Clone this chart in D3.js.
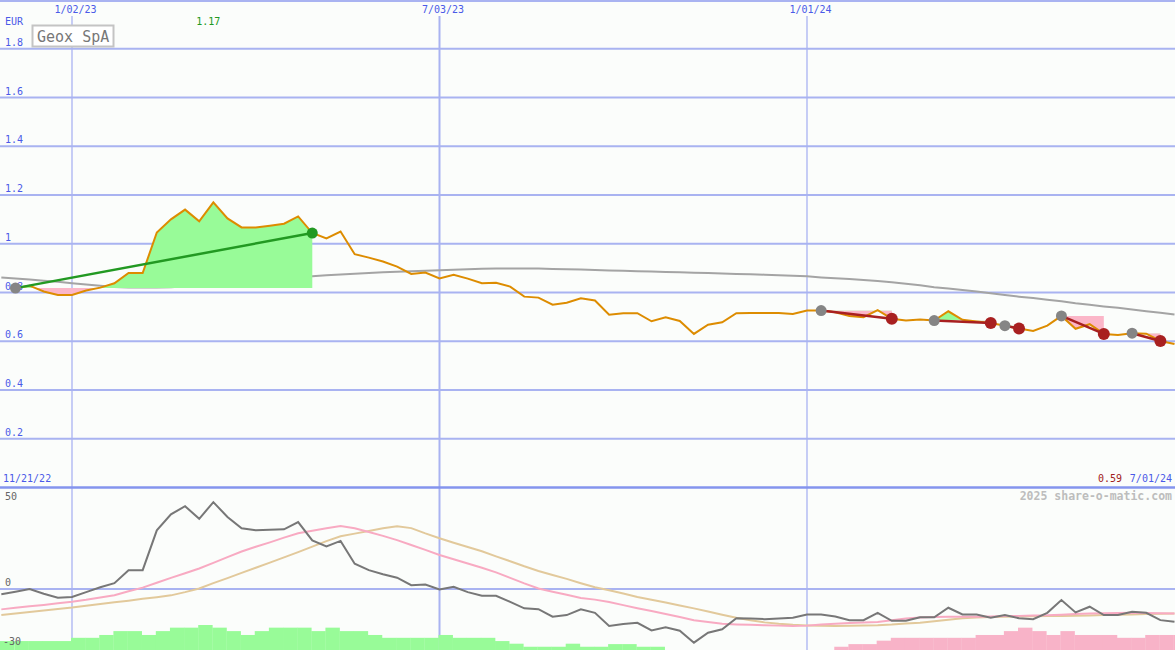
<!DOCTYPE html>
<html><head><meta charset="utf-8">
<script src="https://cdnjs.cloudflare.com/ajax/libs/d3/7.8.5/d3.min.js"></script>
<style>html,body{margin:0;padding:0;background:#fbfdfb;}svg{display:block;}text{font-family:"DejaVu Sans Mono",monospace;}</style>
</head><body>
<script>
// ---- data ----
const firstWeek = "2022-11-28";   // first weekly date (moving averages start here)
const lastWeek = "2024-07-01";
// weekly closing price, from 2022-12-05
const priceStart = "2022-12-05";
const price = [0.818,0.828,0.804,0.790,0.790,0.808,0.820,0.838,0.880,0.880,
1.046,1.100,1.140,1.092,1.170,1.104,1.067,1.067,1.074,1.082,
1.112,1.044,1.022,1.050,0.957,0.943,0.927,0.906,0.876,0.882,
0.858,0.873,0.857,0.838,0.840,0.824,0.783,0.779,0.750,0.758,
0.776,0.767,0.709,0.715,0.715,0.682,0.698,0.683,0.630,0.668,
0.678,0.715,0.716,0.716,0.716,0.712,0.726,0.726,0.719,0.704,
0.699,0.728,0.692,0.685,0.689,0.685,0.723,0.688,0.681,0.675,
0.664,0.652,0.642,0.664,0.704,0.651,0.670,0.630,0.626,0.633,
0.631,0.601,0.589];
// long moving average (from firstWeek)
const longMA = [0.862,0.857,0.853,0.848,0.844,0.838,0.833,0.828,0.823,0.821,
0.821,0.821,0.822,0.826,0.831,0.836,0.840,0.844,0.848,0.853,
0.858,0.863,0.867,0.871,0.874,0.877,0.880,0.883,0.885,0.887,
0.889,0.891,0.893,0.895,0.897,0.898,0.898,0.898,0.898,0.896,
0.895,0.894,0.892,0.890,0.889,0.887,0.886,0.884,0.883,0.881,
0.880,0.878,0.876,0.875,0.873,0.871,0.869,0.867,0.862,0.858,
0.855,0.851,0.847,0.842,0.836,0.830,0.822,0.816,0.810,0.804,
0.797,0.790,0.783,0.777,0.770,0.764,0.756,0.750,0.743,0.737,
0.730,0.723,0.717,0.710];
// trades
const tradeEntry = ["2022-12-05","2024-01-08","2024-03-04","2024-04-08","2024-05-06","2024-06-10"];
const tradeExit  = ["2023-05-01","2024-02-12","2024-04-01","2024-04-15","2024-05-27","2024-06-24"];
const tradeSide  = ["long","short","short","short","short","short"];
// lower panel (from firstWeek)
const oscillator = [-2.5,-1.3,0,-2.3,-4.3,-3.9,-1.5,0.9,2.9,9.3,
9.3,28.9,36.8,40.8,34.6,42.8,35.5,29.9,28.9,29.2,
29.4,33,24,21,23.7,12.5,9.3,7.3,5.6,1.9,
2.2,-0.2,1.1,-1.5,-3.3,-3.3,-6.3,-9.5,-9.9,-13.6,
-12.8,-10,-11.7,-18.2,-17.2,-16.6,-20.4,-18.8,-20.5,-26.4,
-21.5,-19.8,-14.4,-14.5,-14.8,-14.5,-14.1,-12.5,-12.5,-13.5,
-15.3,-15.3,-11.7,-15.6,-15.6,-13.9,-13.9,-9.2,-12.5,-12.5,
-14.1,-12.8,-14.4,-14.8,-11.7,-5.4,-11.5,-8.7,-12.8,-12.8,
-11.2,-11.7,-15.3,-16.1];
const oscFast = [-10.0,-9.2,-8.5,-7.8,-7.0,-6.3,-5.3,-4.1,-3.0,-1.1,
0.7,3.1,5.5,7.8,10.1,12.9,15.7,18.5,20.8,23.0,
25.3,27.5,28.7,29.9,31.0,29.9,28.1,26.2,24.1,21.7,
19.3,16.8,14.7,12.6,10.5,8.2,5.5,2.8,0.3,-1.3,
-2.8,-4.4,-5.2,-6.4,-7.9,-9.4,-10.8,-12.3,-13.8,-15.3,
-16.2,-17.1,-17.4,-17.6,-17.8,-18.0,-18.2,-18.0,-17.5,-17.1,
-16.7,-16.5,-16.2,-15.4,-14.5,-14.0,-13.8,-13.6,-13.6,-13.6,
-13.5,-13.3,-13.2,-13.0,-12.9,-12.6,-12.3,-12.0,-11.9,-11.8,
-11.7,-11.8,-11.9,-12.0];
const oscSlow = [-12.8,-12.0,-11.3,-10.6,-9.8,-9.1,-8.2,-7.4,-6.5,-5.7,
-4.8,-4.0,-3.1,-1.5,0.3,2.9,5.4,8.0,10.5,13.0,
15.6,18.2,20.9,23.6,26.0,27.3,28.6,29.9,30.9,30.0,
27.4,25.0,22.8,20.7,18.6,16.1,13.7,11.2,8.9,6.9,
5.0,2.9,0.9,-0.6,-2.2,-3.9,-5.3,-6.6,-8.1,-9.5,
-11.0,-12.6,-14.1,-15.3,-16.4,-17.1,-17.6,-17.9,-18.1,-18.2,
-18.1,-17.9,-17.8,-17.5,-16.9,-16.6,-15.9,-15.1,-14.4,-14.0,
-13.8,-13.6,-13.5,-13.4,-13.3,-13.3,-13.1,-13.0,-12.8,-12.7,
-12.5,-12.3,-12.1,-12.0];
const histogram = [4.4,4.4,4.4,4.4,4.4,6,6,7.4,9.3,9.3,
7.4,9.3,11,11,12.3,11,9.3,7.4,9.3,11,
11,11,9.3,11,9.3,9.3,7.4,6,6,6,
6,7.4,6,6,6,4.4,3.1,1.6,1.6,1.6,
3.1,1.6,1.6,2.9,2.9,1.6,1.6,0,0,0,
0,0,0,0,0,0,0,0,0,-1.6,
-2.9,-2.9,-4.6,-6,-6,-6,-6,-6,-6,-7.4,
-7.4,-9.3,-11,-9.3,-7.4,-9.3,-7.4,-7.4,-7.4,-6,
-6,-7.4,-7.4,-7.4];
const priceTicks = [0.2,0.4,0.6,0.8,1,1.2,1.4,1.6,1.8];
const dateTicks = ["2023-01-02","2023-07-03","2024-01-01"];
const dateTickLabels = ["1/02/23","7/03/23","1/01/24"];
const lowerTicks = [50,0,-30];

// ---- setup ----
const W = 1175, H = 650;
const parse = d3.utcParse("%Y-%m-%d");
const weeks = d3.utcMonday.range(parse(firstWeek), d3.utcDay.offset(parse(lastWeek), 1));
const pStart = parse(priceStart);
const priceData = price.map((v,i)=>({date:d3.utcWeek.offset(pStart,i), v}));
const maData = longMA.map((v,i)=>({date:weeks[i], v}));

const x = d3.scaleUtc().domain([Date.UTC(2022,10,27,8,14), Date.UTC(2024,6,1,6)]).range([0, W]);
const y = d3.scaleLinear().domain([0,2]).range([487.5,0]);
const yL = d3.scaleLinear().domain([-30,50]).range([650,487.5]);

const svg = d3.select("body").append("svg").attr("width",W).attr("height",H);
svg.append("rect").attr("width",W).attr("height",H).attr("fill","#fbfdfb");
const grid = "#a9b3f1", lab = "#4a5ae8";

// horizontal grid
svg.selectAll(".hg").data(priceTicks).join("line")
  .attr("x1",0).attr("x2",W).attr("y1",d=>y(d)).attr("y2",d=>y(d))
  .attr("stroke",grid).attr("stroke-width",2);
svg.append("line").attr("x1",0).attr("x2",W).attr("y1",1).attr("y2",1).attr("stroke",grid).attr("stroke-width",2);
svg.append("line").attr("x1",0).attr("x2",W).attr("y1",yL(0)).attr("y2",yL(0)).attr("stroke",grid).attr("stroke-width",2);
// vertical date lines
svg.selectAll(".vg").data(dateTicks).join("line")
  .attr("x1",d=>x(parse(d))).attr("x2",d=>x(parse(d)))
  .attr("y1",16).attr("y2",H)
  .attr("stroke",grid).attr("stroke-width",(d,i)=>i===1?2:1.3);
// panel separator
svg.append("line").attr("x1",0).attr("x2",W).attr("y1",487.5).attr("y2",487.5).attr("stroke","#8494ee").attr("stroke-width",2.5);

// labels
svg.selectAll(".yl").data(priceTicks).join("text")
  .attr("x",5).attr("y",d=>y(d)-3).attr("fill",lab).attr("font-size",10)
  .text(d=>d3.format("~g")(d));
svg.append("text").attr("x",5).attr("y",25).attr("fill",lab).attr("font-size",10).text("EUR");
svg.selectAll(".dl").data(dateTicks).join("text")
  .attr("x",d=>x(parse(d))+3.5).attr("y",13).attr("text-anchor","middle")
  .attr("fill",lab).attr("font-size",10).text((d,i)=>dateTickLabels[i]);
svg.append("text").attr("x",3).attr("y",482).attr("fill",lab).attr("font-size",10)
  .text(d3.utcFormat("%-m/%d/%y")(d3.utcWeek.offset(parse(firstWeek),-1)));
svg.append("text").attr("x",1172).attr("y",482).attr("text-anchor","end").attr("fill",lab).attr("font-size",10)
  .text(d3.utcFormat("%-m/%d/%y")(priceData[priceData.length-1].date));
svg.append("text").attr("x",1122).attr("y",482).attr("text-anchor","end").attr("fill","#a02020").attr("font-size",10)
  .text(d3.format(".2f")(price[price.length-1]));
const maxP = d3.max(price);
const maxD = priceData.find(d=>d.v===maxP);
svg.append("text").attr("x",x(maxD.date)-5).attr("y",25).attr("text-anchor","middle").attr("fill","#229922").attr("font-size",10)
  .text(d3.format(".2f")(maxP));
svg.append("text").attr("x",1172).attr("y",500).attr("text-anchor","end").attr("fill","#bdbdbd")
  .attr("font-size",11.5).attr("font-weight","bold").text("2025 share-o-matic.com");

// lower panel histogram
const step = x(weeks[1]) - x(weeks[0]);
svg.selectAll(".bar").data(histogram.map((v,i)=>({date:weeks[i],v}))).join("rect")
  .attr("x",(d,i)=>i===0?0:x(d.date)-1).attr("width",(d,i)=>i===0?x(weeks[1])-1:step+0.3)
  .attr("y",d=>yL(-30+Math.abs(d.v))).attr("height",d=>yL(-30)-yL(-30+Math.abs(d.v)))
  .attr("fill",d=>d.v>=0?"#98fb98":"#f8b3c8");
const lineL = d3.line().x(d=>x(d.date)).y(d=>yL(d.v));
[[oscSlow,"#e2c99b"],[oscFast,"#f8aac2"],[oscillator,"#777"]].forEach(([arr,c])=>{
  svg.append("path").datum(arr.map((v,i)=>({date:weeks[i],v})))
    .attr("d",lineL).attr("fill","none").attr("stroke",c).attr("stroke-width",2);
});
svg.selectAll(".ll").data(lowerTicks).join("text")
  .attr("x",d=>d===-30?3:5).attr("y",d=>d===50?500:d===0?yL(0)-3:645)
  .attr("fill","#666").attr("font-size",10).text(d=>d);

// upper panel
const line = d3.line().x(d=>x(d.date)).y(d=>y(d.v));
svg.append("path").datum(maData).attr("d",line).attr("fill","none").attr("stroke","#a4a4a4").attr("stroke-width",2);

const defs = svg.append("defs");
const trades = tradeEntry.map((e,i)=>{
  const ed = parse(e), xd = parse(tradeExit[i]);
  const seg = priceData.filter(d=>d.date>=ed && d.date<=xd);
  return {entry:seg[0], exit:seg[seg.length-1], seg, side:tradeSide[i]};
});
trades.forEach((t,i)=>{
  const ey = y(t.entry.v);
  const area = d3.area().x(d=>x(d.date)).y0(ey).y1(d=>y(d.v));
  defs.append("clipPath").attr("id","up"+i).append("rect").attr("x",0).attr("y",0).attr("width",W).attr("height",ey);
  defs.append("clipPath").attr("id","dn"+i).append("rect").attr("x",0).attr("y",ey).attr("width",W).attr("height",487-ey);
  svg.append("path").datum(t.seg).attr("d",area).attr("fill","#98fb98").attr("clip-path",`url(#up${i})`);
  svg.append("path").datum(t.seg).attr("d",area).attr("fill","#fbb6c8").attr("clip-path",`url(#dn${i})`);
});
svg.append("path").datum(priceData).attr("d",line).attr("fill","none").attr("stroke","#dd8c00").attr("stroke-width",2);
trades.forEach(t=>{
  const c = t.side==="long"?"#229922":"#a82020";
  svg.append("path").datum([t.entry,t.exit]).attr("d",line).attr("fill","none").attr("stroke",c).attr("stroke-width",2.5);
});
trades.forEach(t=>{
  svg.append("circle").attr("cx",x(t.entry.date)).attr("cy",y(t.entry.v)).attr("r",5.5).attr("fill","#858585");
  svg.append("circle").attr("cx",x(t.exit.date)).attr("cy",y(t.exit.v)).attr("r",t.side==="long"?5.5:6)
    .attr("fill",t.side==="long"?"#229922":"#a82020");
});

// title box
svg.append("rect").attr("x",32.5).attr("y",25.5).attr("width",81).attr("height",21)
  .attr("fill","#ffffff").attr("stroke","#c4c4c4").attr("stroke-width",2);
svg.append("text").attr("x",37).attr("y",41.5).attr("fill","#777").attr("font-size",15).text("Geox SpA");
</script>
</body></html>
